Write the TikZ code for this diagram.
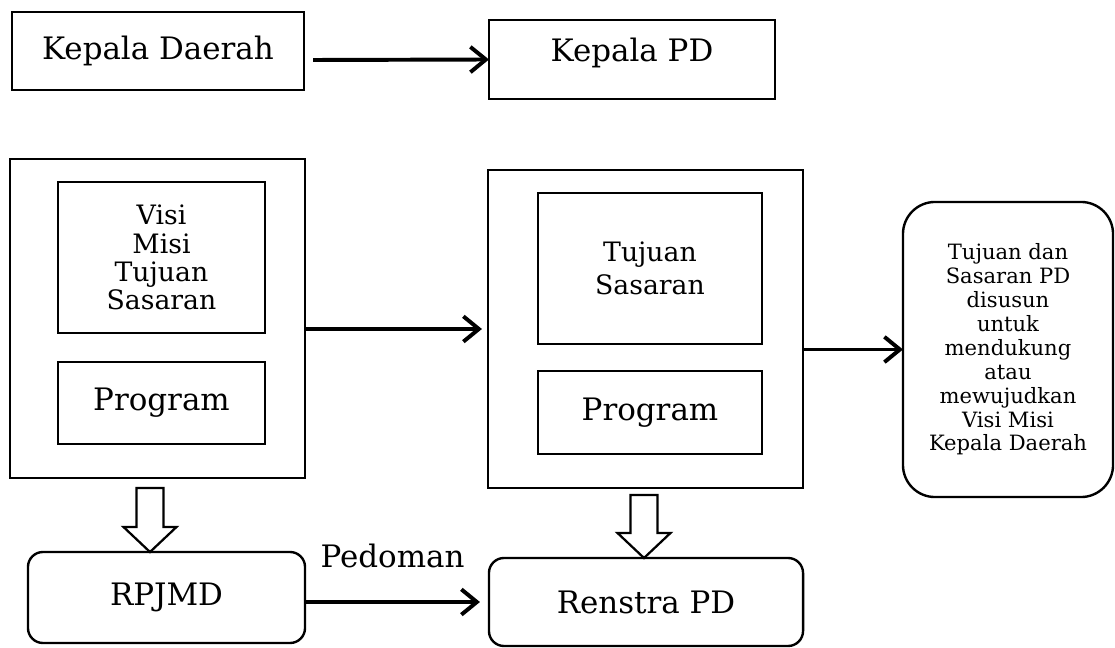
\documentclass[tikz,border=0pt]{standalone}
\usepackage{fontspec}
\setmainfont{DejaVu Serif}
\usetikzlibrary{arrows.meta,calc}

% hollow block arrow from #1 (tail) down to #2 (tip)
\newcommand{\fatarrow}[2]{%
\draw[line width=1.6pt,fill=white] ($(#1)+(-13.5,0)$) -- ($(#2)+(-13.5,-25)$) -- ($(#2)+(-26.5,-25)$)
  -- (#2) -- ($(#2)+(26.5,-25)$) -- ($(#2)+(13.5,-25)$) -- ($(#1)+(13.5,0)$) -- cycle;}

\begin{document}
\begin{tikzpicture}[x=0.025cm,y=-0.025cm,inner sep=0pt,outer sep=0pt,
box/.style={draw,rectangle,line width=1.7pt,align=center,font=\fontsize{22}{26}\selectfont},
rbox/.style={box,rounded corners=0.375cm},
midtxt/.style={font=\fontsize{19}{20}\selectfont},
flow/.style={-{Straight Barb[length=11pt,width=18pt]},line width=2.8pt}]
\useasboundingbox (0,0) rectangle (1115,648);

\draw (158,51) node[box,minimum width=7.3cm,minimum height=1.95cm] (kd) {Kepala Daerah};
\draw (632,59.5) node[box,minimum width=7.15cm,minimum height=1.975cm] (kpd) {Kepala PD\\[-0.45cm]};

\draw (157.5,318.5) node[box,minimum width=7.375cm,minimum height=7.975cm] (rpbox) {};
\draw (161.5,257.5) node[box,midtxt,minimum width=5.175cm,minimum height=3.775cm] (visi) {Visi\\Misi\\Tujuan\\Sasaran};
\draw (161.5,403) node[box,minimum width=5.175cm,minimum height=2.05cm] (prog1) {Program};

\draw (645.5,329) node[box,minimum width=7.875cm,minimum height=7.95cm] (pdbox) {};
\draw (650,268.5) node[box,font=\fontsize{19}{23}\selectfont,minimum width=5.6cm,minimum height=3.775cm] (tujuan) {Tujuan\\Sasaran};
\draw (650,412.5) node[box,minimum width=5.6cm,minimum height=2.075cm] (prog2) {Program};

\draw (1008,349.5) node[box,rounded corners=0.8cm,font=\fontsize{15}{17}\selectfont,minimum width=5.25cm,minimum height=7.375cm] (note)
  {Tujuan dan\\Sasaran PD\\disusun\\untuk\\mendukung\\atau\\mewujudkan\\Visi Misi\\Kepala Daerah};

\draw (166.5,597.5) node[rbox,minimum width=6.925cm,minimum height=2.275cm] (rpjmd) {RPJMD};
\draw (646,602) node[rbox,minimum width=7.85cm,minimum height=2.2cm] (renstra) {Renstra PD};

\draw[flow] (kd.east) ++(9,9) -- (kpd.west);
\draw[flow] (rpbox.east |- pdbox.west) -- ([shift={(-6,0)}]pdbox.west);
\draw[flow] (pdbox.east |- note.west) -- (note.west);
\draw[flow] (rpjmd.east |- renstra.west) -- ([shift={(-9,0)}]renstra.west)
  node[midway,above=0.85cm,font=\fontsize{22}{26}\selectfont] (pedoman) {Pedoman};

\path (rpbox.south) ++(-7.5,10) coordinate (d1);
\path (pdbox.south) ++(-1.5,7) coordinate (d2);
\fatarrow{d1}{d1 |- rpjmd.north}
\fatarrow{d2}{d2 |- renstra.north}
\end{tikzpicture}
\end{document}
